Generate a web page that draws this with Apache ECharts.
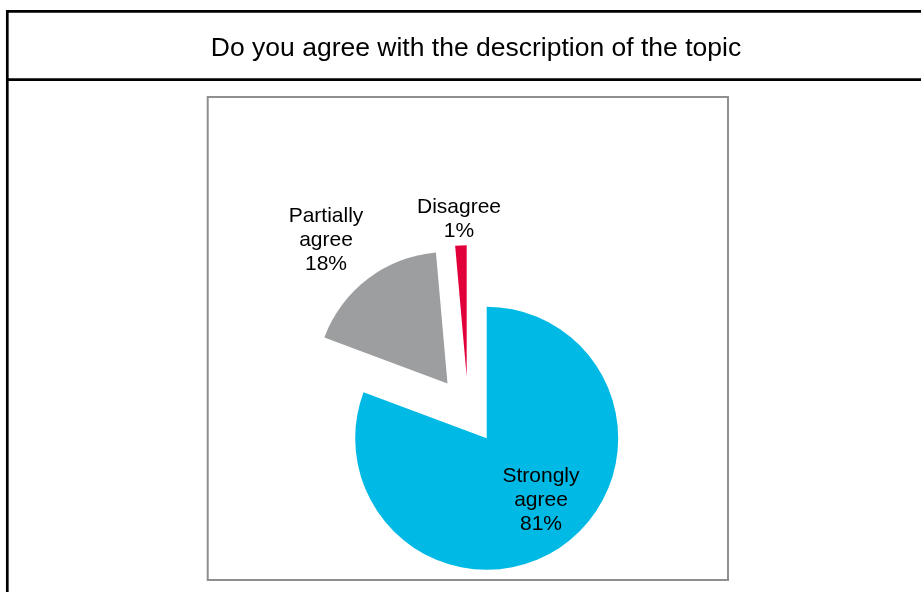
<!DOCTYPE html>
<html>
<head>
<meta charset="utf-8">
<script src="https://cdn.jsdelivr.net/npm/echarts@6/dist/echarts.min.js"></script>
<style>
html,body{margin:0;padding:0;background:#fff;}
#chart{width:921px;height:592px;}
</style>
</head>
<body>
<div id="chart"></div>
<script>
// Data
const titleText = 'Do you agree with the description of the topic';
const categories = ['Strongly agree', 'Partially agree', 'Disagree'];
const values = [80.7, 17.9, 1.4];
const colors = ['#00B9E4', '#9D9EA0', '#E2003A'];

// Layout (pixel positions of each exploded slice's apex, and label anchors)
const R = 131.5;
const centers = [[486.7, 438.3], [447.5, 383.5], [466.7, 376.7]];
const labelPos = [[541, 500], [326, 240], [459, 219]];

const FONT = 'Liberation Sans, Arial, Helvetica, sans-serif';

function makeSeries(k) {
  const data = categories.map((name, i) => {
    if (i === k) {
      return {
        name: name,
        value: values[i],
        itemStyle: { color: colors[i], borderWidth: 0 },
        label: { show: true }
      };
    }
    return {
      name: name + '_filler',
      value: values[i],
      itemStyle: { color: 'rgba(0,0,0,0)', borderWidth: 0 },
      label: { show: false },
      labelLine: { show: false }
    };
  });
  return {
    type: 'pie',
    center: centers[k],
    radius: [0, R],
    startAngle: 90,
    clockwise: true,
    avoidLabelOverlap: false,
    silent: true,
    minAngle: 0,
    data: data,
    label: {
      show: true,
      position: 'inside',
      color: '#000',
      fontFamily: FONT,
      fontSize: 21,
      lineHeight: 24,
      align: 'center',
      formatter: function (p) {
        return p.name.replace(' ', '\n') + '\n' + Math.round(p.value) + '%';
      }
    },
    labelLine: { show: false },
    labelLayout: function () {
      return { x: labelPos[k][0], y: labelPos[k][1], align: 'center', verticalAlign: 'middle' };
    },
    emphasis: { disabled: true }
  };
}

const chart = echarts.init(document.getElementById('chart'));
chart.setOption({
  animation: false,
  backgroundColor: '#fff',
  title: {
    text: titleText,
    left: 471,
    textAlign: 'center',
    top: 30,
    textStyle: { fontFamily: FONT, fontSize: 26.5, fontWeight: 'normal', color: '#000' }
  },
  graphic: [
    { type: 'line', shape: { x1: 6, y1: 11.3, x2: 921, y2: 11.3 }, style: { stroke: '#000', lineWidth: 2.7 } },
    { type: 'line', shape: { x1: 6, y1: 79.7, x2: 921, y2: 79.7 }, style: { stroke: '#000', lineWidth: 2.7 } },
    { type: 'line', shape: { x1: 7.3, y1: 10, x2: 7.3, y2: 592 }, style: { stroke: '#000', lineWidth: 2.7 } },
    { type: 'rect', shape: { x: 207.7, y: 97, width: 520.3, height: 483 }, style: { fill: 'none', stroke: '#8f8f8f', lineWidth: 2 } }
  ],
  series: [makeSeries(0), makeSeries(1), makeSeries(2)]
});
</script>
</body>
</html>
